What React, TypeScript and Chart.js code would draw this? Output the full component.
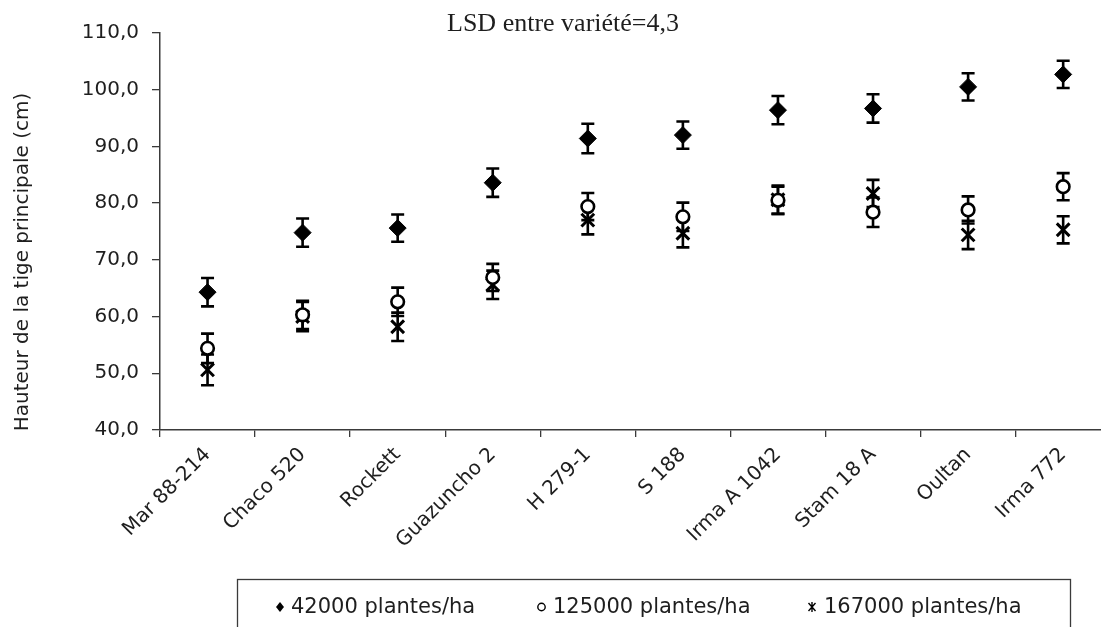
import React, { useEffect, useRef } from 'react';
import { Chart, registerables } from 'chart.js';

Chart.register(...registerables);

// ---------- data ----------
const categories = ['Mar 88-214', 'Chaco 520', 'Rockett', 'Guazuncho 2', 'H 279-1', 'S 188', 'Irma A 1042', 'Stam 18 A', 'Oultan', 'Irma 772'];
const seriesLabels = ['42000 plantes/ha', '125000 plantes/ha', '167000 plantes/ha'];
const height42000 = [64.3, 74.8, 75.6, 83.6, 91.4, 92.0, 96.4, 96.7, 100.5, 102.7];
const height125000 = [54.4, 60.3, 62.6, 66.9, 79.4, 77.6, 80.5, 78.4, 78.8, 82.9];
const height167000 = [50.6, 60.0, 58.2, 65.6, 77.0, 74.7, 80.6, 81.7, 74.4, 75.3];
const err42000 = [2.5, 2.5, 2.4, 2.5, 2.6, 2.4, 2.5, 2.5, 2.4, 2.4];
const err125000 = [2.6, 2.5, 2.5, 2.4, 2.4, 2.5, 2.4, 2.6, 2.4, 2.4];
const err167000 = [2.7, 2.6, 2.5, 2.5, 2.5, 2.5, 2.5, 2.4, 2.5, 2.4];
const yTicks = { min: 40, max: 110, step: 10 };
const titleText = 'LSD entre variété=4,3';
const yAxisTitle = 'Hauteur de la tige principale (cm)';

const CW = 1130;
const CH = 627;
const INK = '#000000';
const AXIS = '#3a3a3a';
const TEXT = '#1e1e1e';
const SANS = '"DejaVu Sans", Verdana, sans-serif';

const errorBarPlugin = {
  id: 'errorBars',
  beforeDatasetsDraw(chart: any) {
    const ctx = chart.ctx;
    const y = chart.scales.y;
    chart.data.datasets.forEach((ds: any, i: number) => {
      const meta = chart.getDatasetMeta(i);
      meta.data.forEach((pt: any, j: number) => {
        const v = ds.data[j];
        const e = ds.errors[j];
        const x = pt.x;
        const yt = y.getPixelForValue(v + e);
        const yb = y.getPixelForValue(v - e);
        ctx.save();
        ctx.strokeStyle = INK;
        ctx.lineWidth = 2.6;
        ctx.beginPath();
        ctx.moveTo(x, yt);
        ctx.lineTo(x, yb);
        ctx.moveTo(x - 6.5, yt);
        ctx.lineTo(x + 6.5, yt);
        ctx.moveTo(x - 6.5, yb);
        ctx.lineTo(x + 6.5, yb);
        ctx.stroke();
        ctx.restore();
      });
    });
  },
};

const decorPlugin = {
  id: 'decor',
  afterDraw(chart: any) {
    const ctx = chart.ctx;
    ctx.save();
    // title
    ctx.fillStyle = TEXT;
    ctx.font = '26px "Liberation Serif", "Times New Roman", serif';
    ctx.textAlign = 'center';
    ctx.textBaseline = 'alphabetic';
    ctx.fillText(titleText, 563, 31);

    // y axis title
    ctx.save();
    ctx.translate(23, 262);
    ctx.rotate(-Math.PI / 2);
    ctx.font = '20px ' + SANS;
    ctx.textAlign = 'center';
    ctx.textBaseline = 'middle';
    ctx.fillText(yAxisTitle, 0, 0);
    ctx.restore();

    // legend box
    ctx.strokeStyle = AXIS;
    ctx.lineWidth = 1.3;
    ctx.strokeRect(237.5, 579.5, 833, 80);

    const cy = 607;
    const items = [
      { mx: 280, tx: 291 },
      { mx: 541.5, tx: 553 },
      { mx: 812, tx: 824 },
    ];
    ctx.font = '21px ' + SANS;
    ctx.textAlign = 'left';
    ctx.textBaseline = 'middle';
    items.forEach((it, i) => {
      ctx.strokeStyle = INK;
      ctx.fillStyle = INK;
      ctx.lineWidth = 1.4;
      if (i === 0) {
        ctx.beginPath();
        ctx.moveTo(it.mx, cy - 5);
        ctx.lineTo(it.mx + 4, cy);
        ctx.lineTo(it.mx, cy + 5);
        ctx.lineTo(it.mx - 4, cy);
        ctx.closePath();
        ctx.fill();
      } else if (i === 1) {
        ctx.beginPath();
        ctx.arc(it.mx, cy, 3.7, 0, Math.PI * 2);
        ctx.stroke();
      } else {
        ctx.beginPath();
        ctx.moveTo(it.mx - 3.5, cy - 4);
        ctx.lineTo(it.mx + 3.5, cy + 4);
        ctx.moveTo(it.mx + 3.5, cy - 4);
        ctx.lineTo(it.mx - 3.5, cy + 4);
        ctx.moveTo(it.mx, cy - 5);
        ctx.lineTo(it.mx, cy + 5);
        ctx.stroke();
      }
      ctx.fillStyle = TEXT;
      ctx.fillText(seriesLabels[i], it.tx, cy + 1);
    });
    ctx.restore();
  },
};

export default function App() {
  const ref = useRef<HTMLCanvasElement | null>(null);

  useEffect(() => {
    if (!ref.current) return;
    const chart = new Chart(ref.current, {
      type: 'line',
      data: {
        labels: categories,
        datasets: [
          {
            label: seriesLabels[0],
            data: height42000,
            errors: err42000,
            showLine: false,
            pointStyle: 'rectRot',
            pointRadius: 8.5,
            pointBackgroundColor: INK,
            pointBorderColor: INK,
            pointBorderWidth: 1,
          } as any,
          {
            label: seriesLabels[1],
            data: height125000,
            errors: err125000,
            showLine: false,
            pointStyle: 'circle',
            pointRadius: 6.3,
            pointBackgroundColor: '#ffffff',
            pointBorderColor: INK,
            pointBorderWidth: 2.6,
          } as any,
          {
            label: seriesLabels[2],
            data: height167000,
            errors: err167000,
            showLine: false,
            pointStyle: 'crossRot',
            pointRadius: 9,
            pointBackgroundColor: INK,
            pointBorderColor: INK,
            pointBorderWidth: 3,
          } as any,
        ],
      },
      options: {
        responsive: false,
        animation: false,
        layout: { padding: { top: 33, right: CW - 1110.7, left: 0, bottom: 0 } },
        plugins: {
          legend: { display: false },
          title: { display: false },
          tooltip: { enabled: false },
        },
        scales: {
          x: {
            type: 'category',
            offset: true,
            grid: {
              offset: true,
              drawOnChartArea: false,
              drawTicks: true,
              tickLength: 7,
              color: AXIS,
              lineWidth: 1.3,
            },
            border: { display: true, color: AXIS, width: 1.5 },
            ticks: {
              minRotation: 45,
              maxRotation: 45,
              autoSkip: false,
              padding: 6,
              color: TEXT,
              font: { family: SANS, size: 20 },
            },
            afterFit(scale: any) {
              scale.height = CH - 430;
            },
          },
          y: {
            min: yTicks.min,
            max: yTicks.max,
            grid: {
              drawOnChartArea: false,
              drawTicks: true,
              tickLength: 8,
              color: AXIS,
              lineWidth: 1.3,
            },
            border: { display: true, color: AXIS, width: 1.5 },
            ticks: {
              stepSize: yTicks.step,
              padding: 13,
              color: TEXT,
              font: { family: SANS, size: 20 },
              callback: (v: any) => Number(v).toFixed(1).replace('.', ','),
            },
            afterFit(scale: any) {
              scale.width = 160;
            },
          },
        },
      } as any,
      plugins: [errorBarPlugin, decorPlugin],
    });
    return () => chart.destroy();
  }, []);

  return (
    <div
      style={{
        position: 'fixed',
        left: 0,
        top: 0,
        width: 1101,
        height: 627,
        overflow: 'hidden',
        background: '#ffffff',
      }}
    >
      <canvas ref={ref} width={CW} height={CH} style={{ width: CW, height: CH, display: 'block' }} />
    </div>
  );
}
